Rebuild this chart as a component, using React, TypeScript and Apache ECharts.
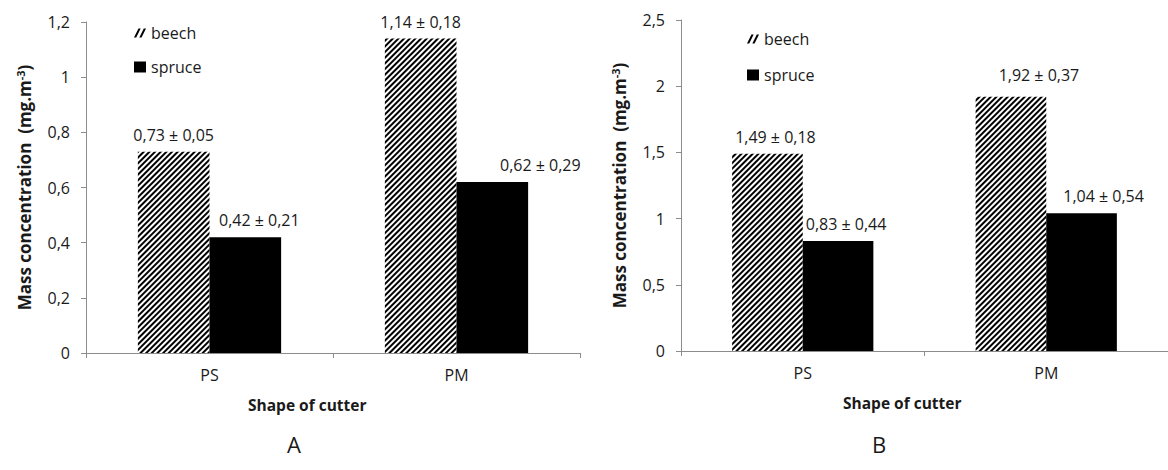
import React, { useEffect, useRef } from "react";
import * as echarts from "echarts";

const categories = ["PS", "PM"];
const beechA = [0.73, 1.14];
const beechAErr = [0.05, 0.18];
const spruceA = [0.42, 0.62];
const spruceAErr = [0.21, 0.29];
const beechB = [1.49, 1.92];
const beechBErr = [0.18, 0.37];
const spruceB = [0.83, 1.04];
const spruceBErr = [0.44, 0.54];
const yTicksA = { min: 0, max: 1.2, interval: 0.2 };
const yTicksB = { min: 0, max: 2.5, interval: 0.5 };

// label offsets (layout only)
const offBeechA = [[0, 0], [0, 0]];
const offSpruceA = [[14, 0], [48, 0]];
const offBeechB = [[8, 0], [28, -5]];
const offSpruceB = [[8, 0], [22, 0]];

const FONT = "Open Sans";
const TXT = "#1a1a1a";

const fmt = (v: number) => {
  const r = Math.round(v * 100) / 100;
  return String(r).replace(".", ",");
};
const fmt2 = (v: number) => v.toFixed(2).replace(".", ",");

const hatch = {
  symbol: "rect",
  symbolSize: 1,
  dashArrayX: [1, 0],
  dashArrayY: [1.8, 1.8],
  rotation: -Math.PI / 4,
  color: "#000",
  backgroundColor: "#fff",
};

const HATCH_ICON = "path://M0,10 L5,0 L7.5,0 L2.5,10 Z M6,10 L11,0 L13.5,0 L8.5,10 Z";

function mkSeries(name: string, vals: number[], errs: number[], offs: number[][], idx: number, hatched: boolean) {
  return {
    type: "bar",
    name,
    xAxisIndex: idx,
    yAxisIndex: idx,
    barGap: "0%",
    barCategoryGap: "42%",
    itemStyle: hatched ? { color: "#fff", decal: hatch } : { color: "#000" },
    data: vals.map((v, i) => ({
      value: v,
      label: { offset: offs[i] },
    })),
    label: {
      show: true,
      position: "top",
      distance: 9,
      fontFamily: FONT,
      fontSize: 16,
      color: TXT,
      formatter: (p: any) => fmt2(vals[p.dataIndex]) + " ± " + fmt2(errs[p.dataIndex]),
    },
  };
}

function mkX(gi: number) {
  return {
    type: "category",
    gridIndex: gi,
    data: categories,
    boundaryGap: true,
    axisLine: { lineStyle: { color: "#8c8c8c", width: 1 } },
    axisTick: { show: true, length: 5, lineStyle: { color: "#8c8c8c" } },
    axisLabel: { fontFamily: FONT, fontSize: 16, color: TXT, margin: 14 },
  };
}

function mkY(gi: number, t: { min: number; max: number; interval: number }) {
  return {
    type: "value",
    gridIndex: gi,
    min: t.min,
    max: t.max,
    interval: t.interval,
    splitLine: { show: false },
    axisLine: { show: true, lineStyle: { color: "#8c8c8c", width: 1 } },
    axisTick: { show: true, length: 5, lineStyle: { color: "#8c8c8c" } },
    axisLabel: { fontFamily: FONT, fontSize: 16, color: TXT, margin: 16, formatter: (v: number) => fmt(v) },
    name: "{a|Mass concentration  (mg.m}{s|-3}{a|)}",
    nameLocation: "middle",
    nameGap: 52,
    nameTextStyle: {
      rich: {
        a: { fontFamily: FONT, fontSize: 17, fontWeight: "bold", color: TXT },
        s: { fontFamily: FONT, fontSize: 11, fontWeight: "bold", color: TXT, verticalAlign: "top", padding: [0, 0, 8, 0] },
      },
    },
  };
}

function mkLegend(left: number, top: number, gap: number) {
  return {
    left,
    top,
    orient: "vertical",
    itemWidth: 12,
    itemHeight: 11,
    itemGap: gap,
    icon: "rect",
    textStyle: { fontFamily: FONT, fontSize: 16, color: TXT },
    data: [
      { name: "beech", icon: HATCH_ICON, itemStyle: { color: "#000", decal: "none" } },
      { name: "spruce", icon: "rect" },
    ],
  };
}

export default function App() {
  const ref = useRef<HTMLDivElement>(null);
  useEffect(() => {
    if (!ref.current) return;
    const chart = echarts.init(ref.current, null, { renderer: "svg" });
    chart.setOption({
      animation: false,
      backgroundColor: "#fff",
      grid: [
        { left: 86, top: 22, width: 494, height: 331 },
        { left: 681, top: 20, width: 496, height: 331 },
      ],
      xAxis: [mkX(0), mkX(1)],
      yAxis: [mkY(0, yTicksA), mkY(1, yTicksB)],
      legend: [mkLegend(129, 20, 18), mkLegend(742, 26, 20)],
      series: [
        mkSeries("beech", beechA, beechAErr, offBeechA, 0, true),
        mkSeries("spruce", spruceA, spruceAErr, offSpruceA, 0, false),
        mkSeries("beech", beechB, beechBErr, offBeechB, 1, true),
        mkSeries("spruce", spruceB, spruceBErr, offSpruceB, 1, false),
      ],
      graphic: [
        { type: "text", left: 300 - 52, top: 397, style: { text: "Shape of cutter", fontFamily: FONT, fontSize: 15.5, fontWeight: "bold", fill: TXT } },
        { type: "text", left: 895 - 52, top: 395, style: { text: "Shape of cutter", fontFamily: FONT, fontSize: 15.5, fontWeight: "bold", fill: TXT } },
        { type: "text", left: 287, top: 433, style: { text: "A", fontFamily: FONT, fontSize: 22, fill: TXT } },
        { type: "text", left: 872, top: 433, style: { text: "B", fontFamily: FONT, fontSize: 22, fill: TXT } },
      ],
    });
    return () => chart.dispose();
  }, []);
  return <div ref={ref} style={{ position: "absolute", left: 0, top: 0, width: 1168, height: 470 }} />;
}
